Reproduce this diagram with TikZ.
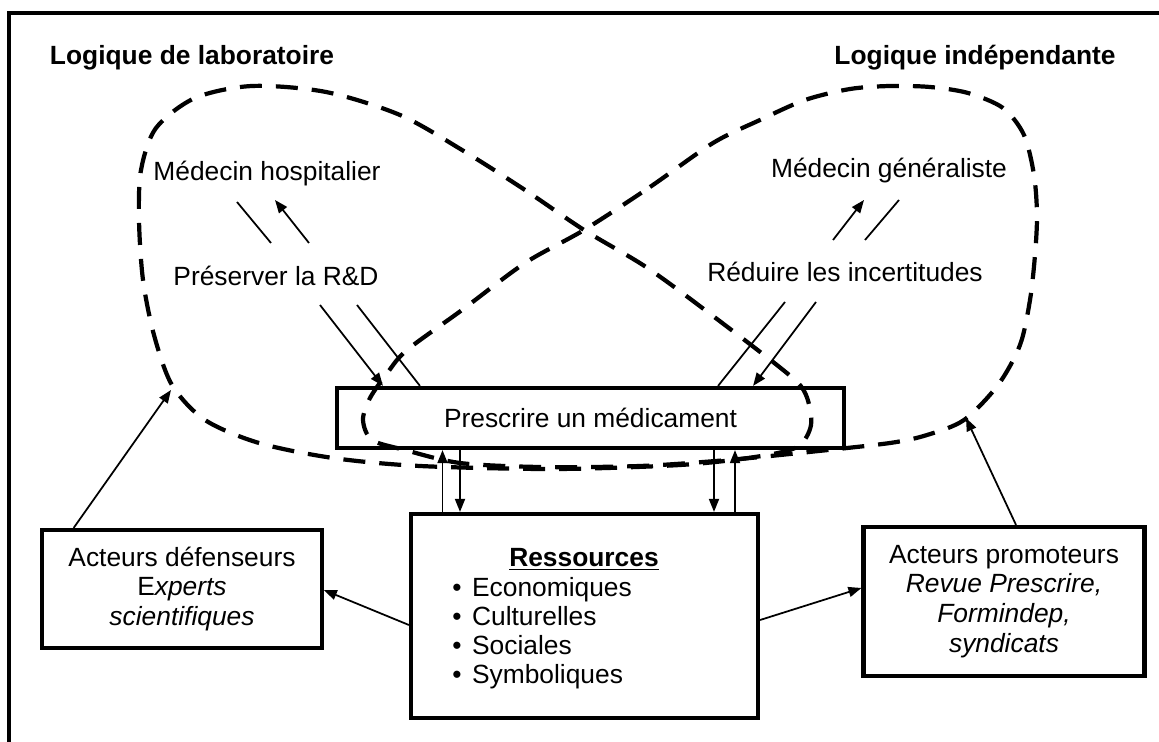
\documentclass[tikz,border=0pt]{standalone}
\usepackage{fontspec}
\setmainfont{Liberation Sans}
\usetikzlibrary{arrows.meta, positioning}

\tikzstyle{txt} = [font=\fontsize{15}{17}\selectfont, inner sep=0pt]
\tikzstyle{logic} = [font=\fontsize{15}{17}\selectfont\bfseries, inner sep=0pt]
\tikzstyle{box} = [rectangle, draw=black, line width=2.4pt, text centered, align=center, font=\fontsize{15}{17}\selectfont]
\tikzstyle{arrow} = [line width=1pt, -{Triangle[length=0.26cm, width=0.2cm]}]
\tikzstyle{link} = [line width=1pt]
\tikzstyle{lobe} = [line width=2.4pt, dash pattern=on 0.44cm off 0.28cm, line join=round]

\begin{document}
\begin{tikzpicture}[x=0.02cm, y=-0.02cm]
\useasboundingbox (0,0) rectangle (1159,742);
\clip (0,0) rectangle (1159,742);

%frame
\draw [line width=2.6pt] (9,13) rectangle (1180,760);

%titles
\node (lab) [logic] at (192,58) {Logique de laboratoire};
\node (ind) [logic] at (975,58) {Logique indépendante};

%doctors and aims
\node (hosp) [txt] at (267,174) {Médecin hospitalier};
\node (pres) [txt] at (276,276) {Préserver la R\&D};
\node (gen) [txt] at (889,171) {Médecin généraliste};
\node (inc) [txt] at (845,272) {Réduire les incertitudes};

%boxes
\node (presc) [box, minimum width=10.14cm, minimum height=1.2cm] at (590.5,418) {Prescrire un médicament};
\node (res) [box, minimum width=6.94cm, minimum height=4.08cm] at (584.5,616) {};
\node (restitle) [txt] at (584,559) {\underline{\textbf{Ressources}}};
\node (reslist) [txt, align=left, anchor=west, font=\fontsize{15}{16.6}\selectfont] at (452,633) {•\hspace{0.4em}Economiques\\•\hspace{0.4em}Culturelles\\•\hspace{0.4em}Sociales\\•\hspace{0.4em}Symboliques};
\node (defs) [box, minimum width=5.59cm, minimum height=2.36cm] at (182,589) {Acteurs défenseurs\\E\textit{xperts}\\\textit{scientifiques}};
\node (prom) [box, minimum width=5.62cm, minimum height=2.98cm] at (1004,601.5) {Acteurs promoteurs\\\textit{Revue Prescrire,}\\\textit{Formindep,}\\\textit{syndicats}};

%ends on the loops
\coordinate (labtip) at (171,390);
\coordinate (indtip) at (966,418);

%dashed loops
\draw [lobe] plot [smooth cycle] coordinates {(584,230) (525,190) (462,150) (400,115) (326,92) (252,86) (195,98) (156,128) (141,170) (139,220) (143,280) (154,335) (172,385) (205,420) (259,443) (333,458) (420,466) (555,469) (680,465) (755,457) (797,447) (811,425) (806,395) (788,374) (709,313) (646,267)};
\draw [lobe] plot [smooth cycle] coordinates {(584,230) (650,187) (713,143) (760,120) (805,100) (850,89) (890,86) (930,87) (968,93) (1003,108) (1024,135) (1034,175) (1037,215) (1035,255) (1030,300) (1020,345) (998,385) (964,420) (927,435) (890,443) (809,452) (728,460) (640,466) (540,467) (460,463) (405,450) (372,440) (363,420) (370,398) (388,372) (407,350) (462,310) (525,263)};

%arrows left
\draw [link] ([shift={(-30,28)}]hosp.center) -- ([shift={(-5,-33)}]pres.center);
\draw [arrow] ([shift={(33,-33)}]pres.center) -- ([shift={(8,26)}]hosp.center);
\draw [arrow] ([shift={(44,29)}]pres.center) -- ([shift={(48,0)}]presc.north west);
\draw [link] ([shift={(81,29)}]pres.center) -- ([shift={(85,0)}]presc.north west);

%arrows right
\draw [arrow] ([shift={(-12,-32)}]inc.center) -- ([shift={(-25,29)}]gen.center);
\draw [link] ([shift={(20,-32)}]inc.center) -- ([shift={(10,29)}]gen.center);
\draw [link] ([shift={(-60,30)}]inc.center) -- ([shift={(-128,0)}]presc.north east);
\draw [arrow] ([shift={(-29,30)}]inc.center) -- ([shift={(-93,0)}]presc.north east);

%resources
\draw [arrow] ([shift={(-142,0)}]res.north) -- ([shift={(-148,0)}]presc.south);
\draw [arrow] ([shift={(-130.5,0)}]presc.south) -- ([shift={(-124.5,0)}]res.north);
\draw [arrow] ([shift={(123.5,0)}]presc.south) -- ([shift={(129.5,0)}]res.north);
\draw [arrow] ([shift={(150.5,0)}]res.north) -- ([shift={(144.5,0)}]presc.south);
\draw [arrow] ([shift={(0,9)}]res.west) -- ([shift={(0,1)}]defs.east);
\draw [arrow] ([shift={(0,4)}]res.east) -- ([shift={(0,-13.5)}]prom.west);

%actors
\draw [arrow] ([shift={(33.5,0)}]defs.north west) -- (labtip);
\draw [arrow] ([shift={(12,0)}]prom.north) -- (indtip);

\end{tikzpicture}
\end{document}
